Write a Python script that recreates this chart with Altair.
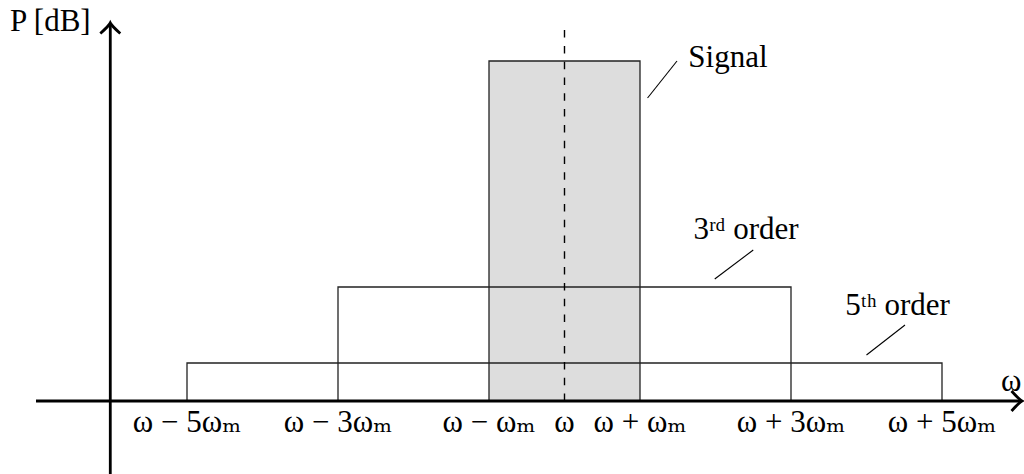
import altair as alt
import pandas as pd

# ---- data (x in units of omega_m around omega, y in arbitrary dB units) ----
components = ["Signal", "3rd order", "5th order"]
half_widths = [1, 3, 5]
levels = [340, 114, 38]
fills = ["#dddddd", "white", "white"]
fill_opacity = [1.0, 0.0, 0.0]

tick_pos = [-5, -3, -1, 0, 1, 3, 5]
tick_labels = ["ω − 5ωₘ", "ω − 3ωₘ", "ω − ωₘ", "ω", "ω + ωₘ", "ω + 3ωₘ", "ω + 5ωₘ"]

ann_text = ["Signal", "3ʳᵈ order", "5ᵗʰ order"]
ann_x = [1.64, 1.71, 3.72]
ann_y = [334, 162, 86]
lead_x1 = [1.10, 1.99, 4.00]
lead_y1 = [303, 122, 46]
lead_x2 = [1.49, 2.50, 4.51]
lead_y2 = [340, 151, 76]

X_DOMAIN = [-7.4768, 6.0861]
Y_DOMAIN = [-73, 401]
FONT = "Liberation Serif, DejaVu Serif"
FS = 31

xs = alt.Scale(domain=X_DOMAIN, nice=False, zero=False)
ys = alt.Scale(domain=Y_DOMAIN, nice=False, zero=False)


def X(f="x"):
    return alt.X(f"{f}:Q", scale=xs, axis=None)


def Y(f="y"):
    return alt.Y(f"{f}:Q", scale=ys, axis=None)


rects = pd.DataFrame({
    "name": components,
    "x": [-h for h in half_widths],
    "x2": half_widths,
    "y": [0] * 3,
    "y2": levels,
})

rect_layers = []
for i in range(3):
    rect_layers.append(
        alt.Chart(rects.iloc[[i]]).mark_rect(
            fill=fills[i], fillOpacity=fill_opacity[i], stroke="#222", strokeWidth=1.3
        ).encode(x=X("x"), x2="x2:Q", y=Y("y"), y2="y2:Q")
    )

dash = alt.Chart(pd.DataFrame({"x": [0], "y": [0], "y2": [379]})).mark_rule(
    color="black", strokeWidth=1.4, strokeDash=[7.5, 8.3]
).encode(x=X("x"), y=Y("y"), y2="y2:Q")

xaxis = alt.Chart(pd.DataFrame({"x": [-7.0], "x2": [6.05], "y": [0]})).mark_rule(
    color="black", strokeWidth=2.8
).encode(x=X("x"), x2="x2:Q", y=Y("y"))

yaxis = alt.Chart(pd.DataFrame({"x": [-6.016], "y": [-73], "y2": [377]})).mark_rule(
    color="black", strokeWidth=2.8
).encode(x=X("x"), y=Y("y"), y2="y2:Q")

arrow_path = "M-1,-0.95 C-0.55,-0.45 -0.2,-0.1 0,0 C-0.2,0.1 -0.55,0.45 -1,0.95"
arrows = pd.DataFrame({"x": [6.06, -6.016], "y": [0, 378], "ang": [0, 270]})
arrow_layer = alt.Chart(arrows).mark_point(
    shape=arrow_path, filled=False, stroke="black", strokeWidth=2.8, size=441, opacity=1
).encode(x=X("x"), y=Y("y"), angle=alt.Angle("ang:Q", scale=None))

ticks = pd.DataFrame({"x": tick_pos, "label": tick_labels, "y": [-31] * len(tick_pos)})
tick_text = alt.Chart(ticks).mark_text(
    font=FONT, fontSize=FS, align="center", baseline="alphabetic", color="black"
).encode(x=X("x"), y=Y("y"), text="label:N")

ann = pd.DataFrame({"x": ann_x, "y": ann_y, "t": ann_text})
ann_layer = alt.Chart(ann).mark_text(
    font=FONT, fontSize=FS, align="left", baseline="alphabetic", color="black"
).encode(x=X("x"), y=Y("y"), text="t:N")

leads = pd.DataFrame({"x": lead_x1, "y": lead_y1, "x2": lead_x2, "y2": lead_y2})
lead_layer = alt.Chart(leads).mark_rule(color="black", strokeWidth=1.1).encode(
    x=X("x"), y=Y("y"), x2="x2:Q", y2="y2:Q"
)

labels = pd.DataFrame({"x": [-7.344, 5.78], "y": [370, 10], "t": ["P [dB]", "ω"]})
label_layer = alt.Chart(labels).mark_text(
    font=FONT, fontSize=FS, align="left", baseline="alphabetic", color="black"
).encode(x=X("x"), y=Y("y"), text="t:N")

chart = alt.layer(
    *rect_layers, dash, xaxis, yaxis, arrow_layer, tick_text, ann_layer, lead_layer, label_layer
).properties(
    width=1024, height=474, autosize=alt.AutoSizeParams(type="none"), padding=0
).configure_view(stroke=None)

chart.save("out.html", embed_options={"renderer": "svg", "actions": False})
